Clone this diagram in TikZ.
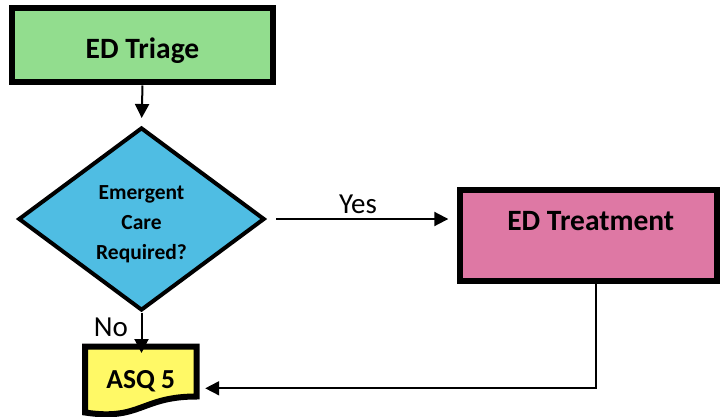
\documentclass[tikz,border=0pt]{standalone}
\usepackage{fontspec}
\setmainfont{Carlito}
\usetikzlibrary{shapes.geometric,arrows.meta}
\definecolor{triagegreen}{HTML}{92DD8E}
\definecolor{diablue}{HTML}{4FBDE3}
\definecolor{treatpink}{HTML}{DE78A4}
\definecolor{asqyellow}{HTML}{FFF966}
\begin{document}
\begin{tikzpicture}[x=1pt,y=-1pt,
  box/.style={draw=black, line width=6pt, inner sep=0pt, line join=miter},
  boxtext/.style={font=\bfseries\fontsize{29.5}{34}\selectfont},
  conn/.style={draw=black, line width=2pt, -{Triangle[length=14pt,width=14pt]}},
  retconn/.style={draw=black, line width=1.75pt, -{Triangle[length=14pt,width=14pt]}},
  lbl/.style={font=\fontsize{29}{32}\selectfont, inner sep=0pt, anchor=base}]
\useasboundingbox (0,0) rectangle (720,417);
% ED Triage
\node[box, boxtext, fill=triagegreen, minimum width=261pt, minimum height=74pt,
      text height=25.6pt, text depth=0pt] (triage) at (142.5,45.5) {ED Triage};
% Decision diamond
\node[diamond, draw=black, line width=4pt, fill=diablue, inner sep=0pt,
      minimum width=246.2pt, minimum height=183pt] (dia) at (141.5,219) {};
\node[font=\bfseries\fontsize{21.5}{30}\selectfont, align=center, inner sep=0pt]
      (diatxt) at (141.5,224.5) {Emergent\\Care\\Required?};
% ED Treatment
\node[box, boxtext, fill=treatpink, minimum width=256.5pt, minimum height=90.5pt,
      text height=0pt, text depth=10.5pt] (treat) at (588.25,235.25) {\hspace*{5pt}ED Treatment};
% ASQ 5 document shape
\draw[line width=6pt, line join=miter, fill=asqyellow]
  (85,346.5) -- (196.5,346.5) -- (196.5,396.5)
  .. controls (140.75,396.5) and (140.75,421) .. (85,412.5) -- cycle;
\node[font=\bfseries\fontsize{27.5}{32}\selectfont, inner sep=0pt,
      minimum width=111.5pt, minimum height=66pt, text height=17.6pt, text depth=0pt]
      (asq) at (140.75,379.5) {ASQ 5};
% connectors
\draw[conn, shorten >=7.5pt] (triage.south) -- (dia.north);
\draw[conn, shorten <=9.4pt, shorten >=8.7pt] (dia.east) -- (dia.east -| treat.west);
\coordinate (noend) at (141.5,353);
\draw[conn] (dia.south) -- (noend);
\coordinate (retcorner) at (596,388.3);
\draw[retconn, shorten >=8.5pt] (treat.south -| retcorner) -- (retcorner) -- (asq.east |- retcorner);
% labels
\node[lbl] (yes) at (358,213) {Yes};
\node[lbl] (no) at (111,336) {No};
\end{tikzpicture}
\end{document}
